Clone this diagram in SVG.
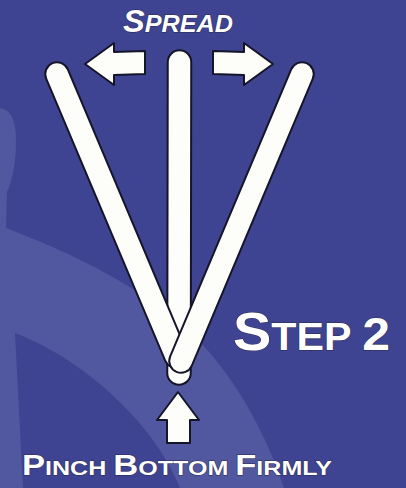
<svg xmlns="http://www.w3.org/2000/svg" width="406" height="488" viewBox="0 0 406 488">
  <style>
    .bg { fill: #3e4491; }
    .swoosh { fill: #51589f; }
    .outline { stroke: #15152a; stroke-width: 25.5; stroke-linecap: round; fill: none; }
    .stick { stroke: #fdfdf9; stroke-width: 21.5; stroke-linecap: round; fill: none; }
    .arrow { fill: #fdfdf9; stroke: #15152a; stroke-width: 2; stroke-linejoin: round; }
    .label { font-family: "Liberation Sans", Arial, sans-serif; font-weight: bold; fill: #ffffff; stroke: #2a2a55; stroke-width: 1; paint-order: stroke; }
  </style>
  <rect class="bg" x="0" y="0" width="406" height="488"/>
  <path class="swoosh" d="M0,108 Q16,110 16,140 Q16,172 7,192 L6,228 C70,252 150,290 200,342 C240,384 268,440 284,488 L180,488 C158,430 90,362 15,333 L23,488 L0,488 Z"/>

  <g id="stick-center">
    <line class="outline" x1="179.5" y1="62" x2="179" y2="373"/>
    <line class="stick" x1="179.5" y1="62" x2="179" y2="373"/>
  </g>
  <g id="stick-left">
    <line class="outline" x1="57" y1="74" x2="176" y2="356"/>
    <line class="stick" x1="57" y1="74" x2="176" y2="356"/>
  </g>
  <g id="stick-right">
    <line class="outline" x1="302" y1="74" x2="181" y2="361"/>
    <line class="stick" x1="302" y1="74" x2="181" y2="361"/>
  </g>

  <g id="connectors">
    <polygon class="arrow" points="85,64 114,43 114,52 145,51 145,74 114,75 114,85"/>
    <polygon class="arrow" points="273,64 244,43 244,52 213,51 213,74 244,75 244,85"/>
    <polygon class="arrow" points="178,392 199,420 190,420 190,443 167,443 167,420 157,420"/>
  </g>

  <g id="label-spread">
    <text class="label" x="123" y="32" font-style="italic" textLength="110" lengthAdjust="spacingAndGlyphs"><tspan font-size="31">S</tspan><tspan font-size="24">PREAD</tspan></text>
  </g>
  <g id="label-step">
    <text class="label" x="233" y="350" textLength="157" lengthAdjust="spacingAndGlyphs"><tspan font-size="53">S</tspan><tspan font-size="38">TEP </tspan><tspan font-size="46">2</tspan></text>
  </g>
  <g id="label-pinch">
    <text class="label" x="22" y="475" textLength="310" lengthAdjust="spacingAndGlyphs"><tspan font-size="29">P</tspan><tspan font-size="21">INCH </tspan><tspan font-size="29">B</tspan><tspan font-size="21">OTTOM </tspan><tspan font-size="29">F</tspan><tspan font-size="21">IRMLY</tspan></text>
  </g>
</svg>
